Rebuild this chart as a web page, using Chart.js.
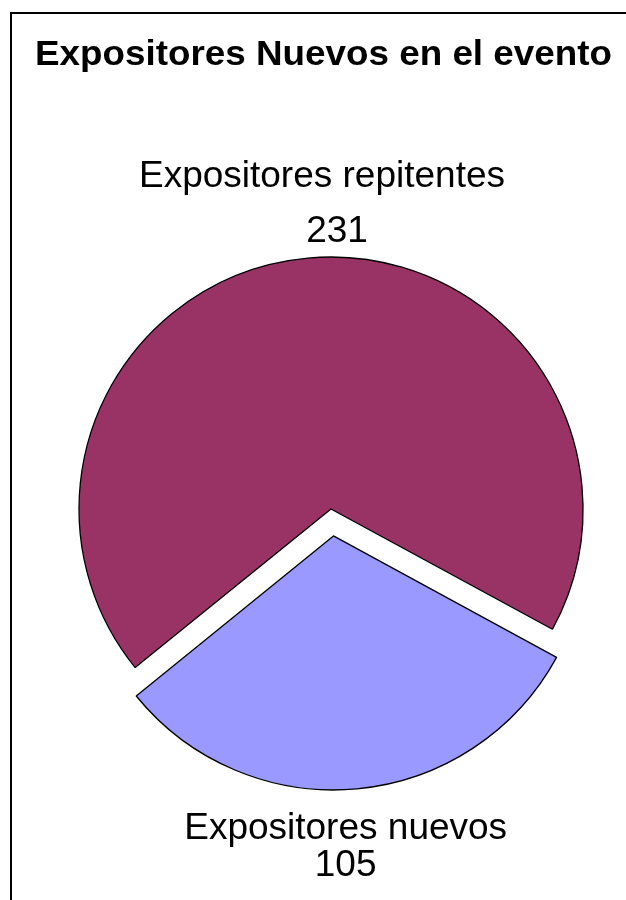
<!DOCTYPE html>
<html><head><meta charset="utf-8">
<script src="https://cdn.jsdelivr.net/npm/chart.js@4"></script>
<style>
html,body{margin:0;padding:0;background:#fff;}
#wrap{position:relative;width:626px;height:900px;overflow:hidden;background:#fff;}
#frame{position:absolute;left:10px;top:12px;width:700px;height:1000px;border-left:2px solid #000;border-top:2px solid #000;}
canvas{position:absolute;left:0;top:0;}
</style></head><body>
<div id="wrap"><div id="frame"></div><canvas id="c" width="626" height="900"></canvas></div>
<script>
const chartTitle = 'Expositores Nuevos en el evento';
const categories = ['Expositores repitentes', 'Expositores nuevos'];
const values = [231, 105];
const colors = ['#993366', '#9999FF'];

const FONT = '"Liberation Sans", Arial, Helvetica, sans-serif';

const titlePlugin = {
  id: 'stretchedTitle',
  afterDraw(chart) {
    const ctx = chart.ctx;
    ctx.save();
    ctx.font = 'bold 35px ' + FONT;
    ctx.fillStyle = '#000';
    ctx.textBaseline = 'alphabetic';
    ctx.textAlign = 'left';
    const w = ctx.measureText(chartTitle).width;
    const sx = 577 / w;
    ctx.translate(35, 65);
    ctx.scale(sx, 1);
    ctx.fillText(chartTitle, 0, 0);
    ctx.restore();
  }
};

// per-label line nudges (layout only)
const labelLayout = [
  { lines: [{dx: -9, dy: -71}, {dx: 6, dy: -16}] },
  { lines: [{dx: 12, dy: 50}, {dx: 12, dy: 87}] }
];

// Chart.js v4 arc draw translation for a given offset
function arcShift(off, circ) {
  const o = off / 4;
  const fix = 1 - Math.sin(Math.min(Math.PI, circ || 0));
  return o + o * fix;
}

const labelPlugin = {
  id: 'pieLabels',
  afterDatasetsDraw(chart) {
    const ctx = chart.ctx;
    const meta = chart.getDatasetMeta(0);
    const ds = chart.data.datasets[0];
    ctx.save();
    ctx.font = '37px ' + FONT;
    ctx.fillStyle = '#000';
    ctx.textAlign = 'center';
    ctx.textBaseline = 'alphabetic';
    meta.data.forEach((arc, i) => {
      const p = arc.getProps(['x', 'y', 'startAngle', 'endAngle', 'outerRadius', 'circumference'], true);
      const mid = (p.startAngle + p.endAngle) / 2;
      const sh = arcShift(ds.offset[i] || 0, p.circumference);
      const cx = p.x + Math.cos(mid) * sh;
      const cy = p.y + Math.sin(mid) * sh;
      const py = cy + Math.sin(mid) * p.outerRadius;
      const texts = [chart.data.labels[i], String(ds.data[i])];
      const lay = labelLayout[i];
      texts.forEach((t, j) => {
        ctx.fillText(t, cx + lay.lines[j].dx, py + lay.lines[j].dy);
      });
    });
    ctx.restore();
  }
};

new Chart(document.getElementById('c'), {
  type: 'pie',
  data: {
    labels: categories,
    datasets: [{
      data: values,
      backgroundColor: colors,
      borderColor: '#000',
      borderWidth: 1.3,
      offset: [0, 108]
    }]
  },
  options: {
    responsive: false,
    animation: false,
    rotation: 231,
    radius: 252,
    layout: { padding: { left: 36, right: 0, top: 118, bottom: 0 } },
    plugins: {
      legend: { display: false },
      tooltip: { enabled: false },
      title: { display: false }
    }
  },
  plugins: [labelPlugin, titlePlugin]
});
</script>
</body></html>
